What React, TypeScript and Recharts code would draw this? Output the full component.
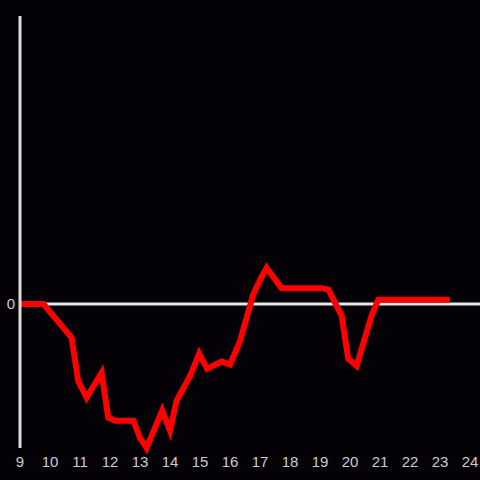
import React from "react";
import { LineChart, Line, XAxis, YAxis, ReferenceLine } from "recharts";

const hours = [9, 9.78, 10.72, 10.94, 11.22, 11.72, 11.94, 12.17, 12.78, 13.0, 13.22, 13.74, 14.0, 14.22, 14.67, 14.97, 15.24, 15.72, 16.0, 16.33, 16.78, 17.06, 17.22, 17.72, 19.06, 19.28, 19.72, 19.94, 20.22, 20.72, 20.94, 23.33];
const values = [0, 0, -0.234, -0.535, -0.65, -0.477, -0.79, -0.81, -0.81, -0.93, -1.0, -0.74, -0.88, -0.67, -0.5, -0.345, -0.45, -0.4, -0.42, -0.26, 0.07, 0.19, 0.25, 0.11, 0.11, 0.1, -0.08, -0.38, -0.43, -0.08, 0.03, 0.03];
const xTicks = [9, 10, 11, 12, 13, 14, 15, 16, 17, 18, 19, 20, 21, 22, 23, 24];
const yTicks = [0];

const data = hours.map((h, i) => ({ h, v: values[i] }));

const FONT = "Liberation Sans, Arial, sans-serif";

function XTick(props: any) {
  const { x, y, payload } = props;
  return (
    <text x={x} y={y} dy={11} textAnchor="middle" fill="#cccccc" fontSize={15} fontFamily={FONT}>
      {payload.value}
    </text>
  );
}

function YTick(props: any) {
  const { y, payload } = props;
  return (
    <text x={15} y={y} dy={5} textAnchor="end" fill="#cccccc" fontSize={15} fontFamily={FONT}>
      {payload.value}
    </text>
  );
}

export default function App() {
  return (
    <div style={{ position: "fixed", left: 0, top: 0, width: 480, height: 480, background: "#040206" }}>
      <LineChart width={480} height={480} data={data} margin={{ top: 16, right: 0, bottom: 0, left: 0 }}>
        <XAxis
          dataKey="h"
          type="number"
          domain={[9, 24.3333]}
          ticks={xTicks}
          axisLine={false}
          tickLine={false}
          height={32}
          tickSize={6}
          tickMargin={2}
          tick={<XTick />}
        />
        <YAxis
          type="number"
          domain={[-1, 2]}
          ticks={yTicks}
          width={20}
          axisLine={{ stroke: "#dddddd", strokeWidth: 3 }}
          tickLine={false}
          tick={<YTick />}
        />
        <ReferenceLine y={0} stroke="#e6e6e6" strokeWidth={3} />
        <Line
          dataKey="v"
          stroke="#ff0000"
          strokeWidth={6}
          dot={false}
          type="linear"
          isAnimationActive={false}
        />
      </LineChart>
    </div>
  );
}
